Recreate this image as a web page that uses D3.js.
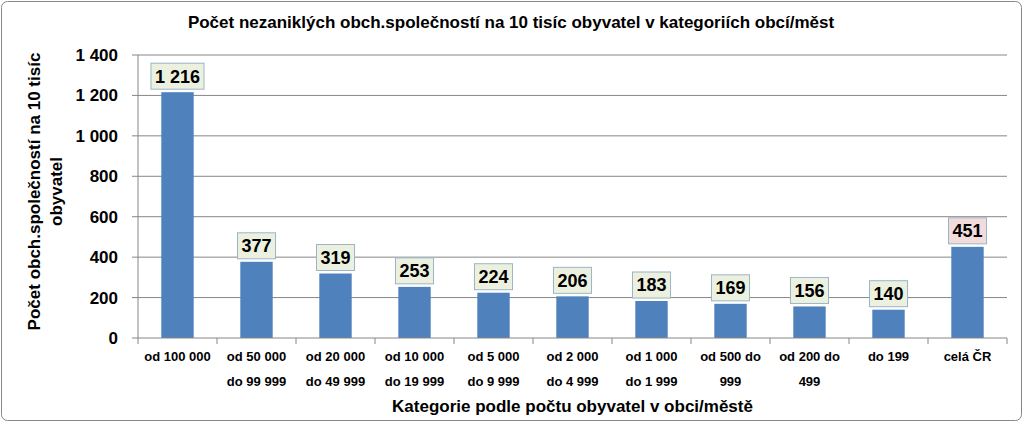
<!DOCTYPE html>
<html><head><meta charset="utf-8">
<script src="https://cdn.jsdelivr.net/npm/d3@7"></script>
<style>body{margin:0;background:#fff}</style>
</head><body>
<script>
var categories = [["od 100 000"], ["od 50 000", "do 99 999"], ["od 20 000", "do 49 999"], ["od 10 000", "do 19 999"],
    ["od 5 000", "do 9 999"], ["od 2 000", "do 4 999"], ["od 1 000", "do 1 999"], ["od 500 do", "999"],
    ["od 200 do", "499"], ["do 199"], ["celá ČR"]];
var values = [1216, 377, 319, 253, 224, 206, 183, 169, 156, 140, 451];
var yTicks = [0, 200, 400, 600, 800, 1000, 1200, 1400];

var W = 1023, H = 422;
var margin = {top: 55, right: 16, bottom: 84, left: 138};
var width = W - margin.left - margin.right, height = H - margin.top - margin.bottom;
var font = "'Liberation Sans', Arial, sans-serif";
var fmt = function(v) { return d3.format(",")(v).replace(/,/g, " "); };

var root = d3.select("body").append("svg").attr("width", W).attr("height", H);
root.append("rect").attr("x", 1.5).attr("y", 1.5).attr("width", W - 3).attr("height", H - 3)
    .attr("rx", 6).style("fill", "#fff").style("stroke", "#888").style("stroke-width", 1);

var svg = root.append("g").attr("transform", "translate(" + margin.left + "," + margin.top + ")");

var x = d3.scaleBand().domain(d3.range(values.length)).range([0, width]).paddingInner(0.59).paddingOuter(0.295);
var y = d3.scaleLinear().domain([0, 1400]).range([height, 0]);

// gridlines
svg.append("g").selectAll("line").data(yTicks.slice(1)).enter().append("line")
    .attr("x1", 0).attr("x2", width).attr("y1", y).attr("y2", y)
    .style("stroke", "#868686");

// bars
svg.selectAll(".bar").data(values).enter().append("rect")
    .attr("x", function(d, i) { return x(i); })
    .attr("y", function(d) { return y(d); })
    .attr("width", x.bandwidth())
    .attr("height", function(d) { return height - y(d); })
    .style("fill", "#4f81bd");

// axes lines
svg.append("line").attr("x1", 0).attr("x2", width).attr("y1", height).attr("y2", height).style("stroke", "#868686");
svg.append("line").attr("x1", 0).attr("x2", 0).attr("y1", 0).attr("y2", height).style("stroke", "#868686");
var step = x.step();
svg.append("g").selectAll("line").data(d3.range(values.length + 1)).enter().append("line")
    .attr("x1", function(i) { return i * step; }).attr("x2", function(i) { return i * step; })
    .attr("y1", height).attr("y2", height + 6).style("stroke", "#868686");
svg.append("g").selectAll("line").data(yTicks).enter().append("line")
    .attr("x1", -6).attr("x2", 0).attr("y1", y).attr("y2", y).style("stroke", "#868686");

// y tick labels
svg.append("g").selectAll("text").data(yTicks).enter().append("text")
    .attr("x", -20).attr("y", y).attr("dy", "0.35em")
    .style("text-anchor", "end").style("font", "bold 17px " + font)
    .text(fmt);

// x tick labels
var xl = svg.append("g").selectAll("text").data(categories).enter().append("text")
    .attr("x", function(d, i) { return x(i) + x.bandwidth() / 2; })
    .attr("y", height + 23)
    .style("text-anchor", "middle").style("font", "bold 13px " + font);
xl.selectAll("tspan").data(function(d) { return d; }).enter().append("tspan")
    .attr("x", function() { return this.parentNode.getAttribute("x"); })
    .attr("dy", function(d, i) { return i ? 25 : 0; })
    .text(function(d) { return d; });

// data labels
var lab = svg.selectAll(".lab").data(values).enter().append("g")
    .attr("transform", function(d, i) { return "translate(" + (x(i) + x.bandwidth() / 2) + "," + (y(d) - 16) + ")"; });
lab.append("text").attr("dy", "0.36em").style("text-anchor", "middle")
    .style("font", "bold 18px " + font).text(fmt)
    .each(function(d, i) {
        var b = this.getBBox();
        d3.select(this.parentNode).insert("rect", "text")
            .attr("x", b.x - 4).attr("y", -13).attr("width", b.width + 8).attr("height", 26)
            .style("fill", i === values.length - 1 ? "#f2dcdb" : "#ebf1de")
            .style("stroke", "#9bb5c8");
    });

// titles
root.append("text").attr("x", 511).attr("y", 28).style("text-anchor", "middle")
    .style("font", "bold 17px " + font).text("Počet nezaniklých obch.společností na 10 tisíc obyvatel v kategoriích obcí/měst");
root.append("text").attr("x", margin.left + width / 2).attr("y", 412).style("text-anchor", "middle")
    .style("font", "bold 17px " + font).text("Kategorie podle počtu obyvatel v obci/městě");
var yt = root.append("text").attr("transform", "translate(40," + (margin.top + height / 2 - 5) + ") rotate(-90)")
    .style("text-anchor", "middle").style("font", "bold 17px " + font);
yt.append("tspan").attr("x", 0).attr("dy", 0).text("Počet obch.společností na 10 tisíc");
yt.append("tspan").attr("x", 0).attr("dy", 22).text("obyvatel");
</script>
</body></html>
